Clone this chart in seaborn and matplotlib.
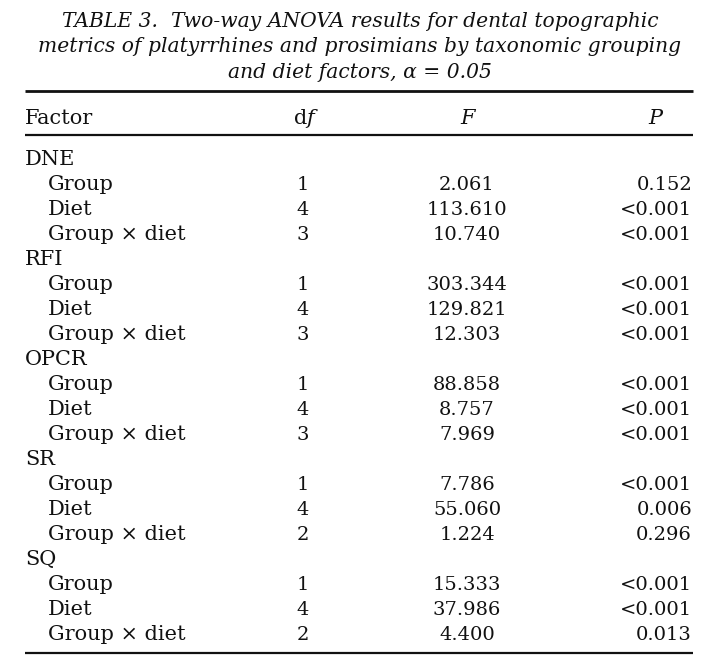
import matplotlib
matplotlib.use("Agg")
import matplotlib.pyplot as plt
import seaborn as sns

# ---- data ----
title_lines = [
    "TABLE 3.  Two-way ANOVA results for dental topographic",
    "metrics of platyrrhines and prosimians by taxonomic grouping",
    "and diet factors, α = 0.05",
]
headers = ["Factor", "d$\\it{f}$", "F", "P"]
metrics = ["DNE", "RFI", "OPCR", "SR", "SQ"]
factors = ["Group", "Diet", "Group × diet"]
df_vals = [[1, 4, 3], [1, 4, 3], [1, 4, 3], [1, 4, 2], [1, 4, 2]]
F_vals = [
    ["2.061", "113.610", "10.740"],
    ["303.344", "129.821", "12.303"],
    ["88.858", "8.757", "7.969"],
    ["7.786", "55.060", "1.224"],
    ["15.333", "37.986", "4.400"],
]
P_vals = [
    ["0.152", "<0.001", "<0.001"],
    ["<0.001", "<0.001", "<0.001"],
    ["<0.001", "<0.001", "<0.001"],
    ["<0.001", "0.006", "0.296"],
    ["<0.001", "<0.001", "0.013"],
]

sns.set_theme(style="white")
plt.rcParams["font.family"] = ["DejaVu Serif"]
plt.rcParams["mathtext.fontset"] = "dejavuserif"

W, H = 704, 664
fig = plt.figure(figsize=(W / 100, H / 100), dpi=100)
ax = fig.add_axes([0, 0, 1, 1])
ax.set_xlim(0, W)
ax.set_ylim(H, 0)
ax.axis("off")

col = "#111111"
fs_title = 14.6
fs_lab = 15.0
fs_num = 14.0

# title
for i, line in enumerate(title_lines):
    ax.text(360, 27 + 25.5 * i, line, ha="center", va="baseline",
            fontsize=fs_title, style="italic", color=col)

# rules
x0, x1 = 25, 693
ax.hlines(91, x0, x1, color=col, lw=2.0)
ax.hlines(135, x0, x1, color=col, lw=1.6)
ax.hlines(652.5, x0, x1, color=col, lw=1.6)

# header
hy = 124
ax.text(25, hy, headers[0], ha="left", va="baseline", fontsize=fs_lab, color=col)
ax.text(306, hy, headers[1], ha="center", va="baseline", fontsize=fs_lab, color=col)
ax.text(468, hy, headers[2], ha="center", va="baseline", fontsize=fs_lab,
        style="italic", color=col)
ax.text(655, hy, headers[3], ha="center", va="baseline", fontsize=fs_lab,
        style="italic", color=col)

# body
y0, dy = 165, 25
r = 0
for m, metric in enumerate(metrics):
    ax.text(25, y0 + dy * r, metric, ha="left", va="baseline", fontsize=fs_lab, color=col)
    r += 1
    for k, fac in enumerate(factors):
        y = y0 + dy * r
        ax.text(48, y, fac, ha="left", va="baseline", fontsize=fs_lab, color=col)
        ax.text(303, y, str(df_vals[m][k]), ha="center", va="baseline",
                fontsize=fs_num, color=col)
        ax.text(467, y, F_vals[m][k], ha="center", va="baseline",
                fontsize=fs_num, color=col)
        ax.text(692, y, P_vals[m][k], ha="right", va="baseline",
                fontsize=fs_num, color=col)
        r += 1

fig.savefig("out.png", dpi=100, facecolor="white")
